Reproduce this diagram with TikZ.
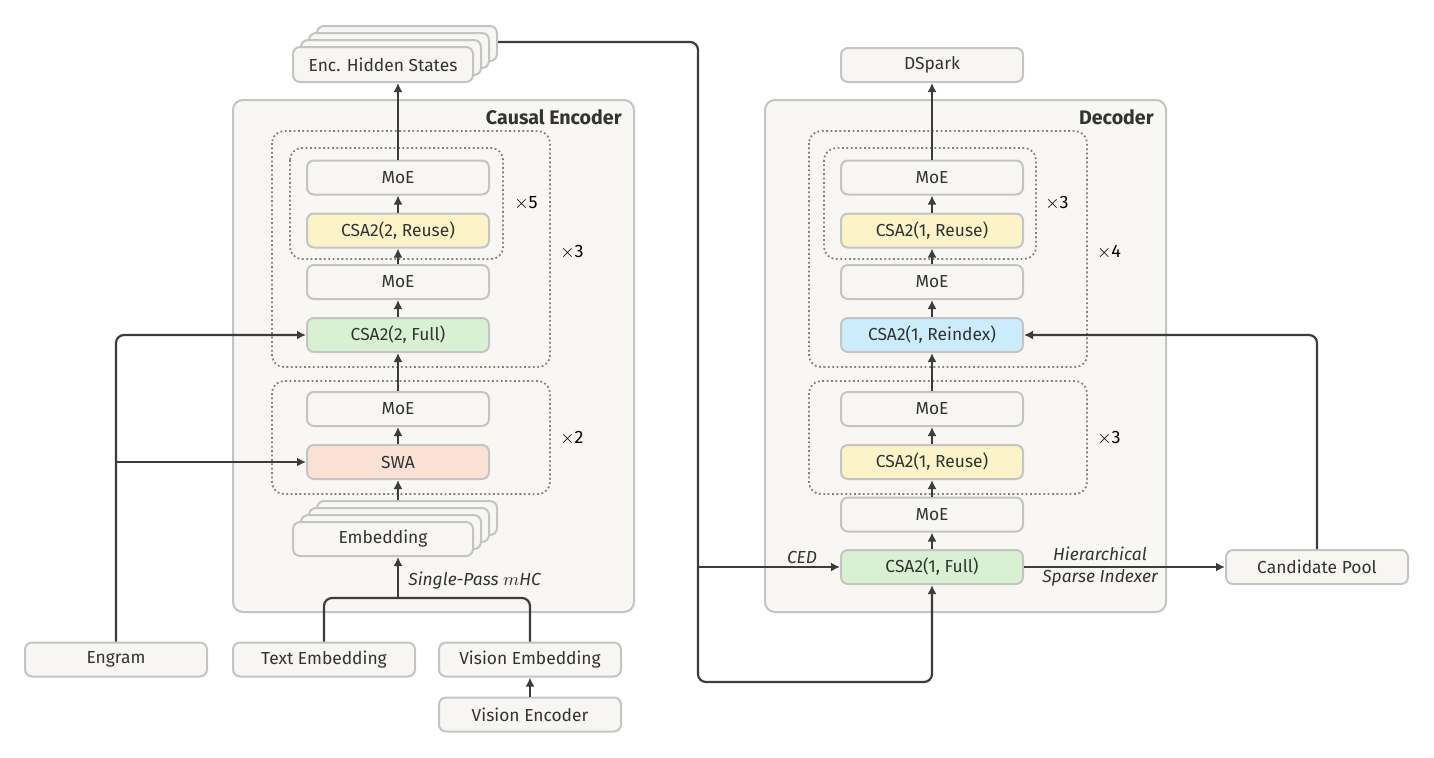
\documentclass[tikz,border=0pt]{standalone}
\usepackage{fontspec}
\setmainfont{Fira Sans}
\usetikzlibrary{arrows.meta}
\definecolor{boxfill}{HTML}{F7F6F2}
\definecolor{contfill}{HTML}{F8F7F4}
\definecolor{bordc}{HTML}{C4C4C4}
\definecolor{dotc}{HTML}{808080}
\definecolor{arrc}{HTML}{3C3C3C}
\definecolor{textc}{HTML}{333333}
\definecolor{yel}{HTML}{FCF4C8}
\definecolor{grn}{HTML}{D8F1D2}
\definecolor{pch}{HTML}{FBE1D3}
\definecolor{blu}{HTML}{CBEDFB}
\tikzset{
  blk/.style={draw=bordc, line width=1pt, rounded corners=3.5pt, fill=boxfill,
    minimum width=91pt, minimum height=17pt, inner sep=0pt, text=textc,
    font=\fontsize{8.7}{10}\selectfont},
  stk/.style={blk, minimum width=90pt},
  cont/.style={draw=bordc, line width=1pt, rounded corners=5pt, fill=contfill},
  dotbox/.style={draw=dotc, line width=0.9pt, dash pattern=on 0.9pt off 1.3pt, rounded corners=6pt},
  ttl/.style={font=\fontsize{9.8}{11}\selectfont\bfseries, text=textc, anchor=east, inner sep=0pt},
  rep/.style={font=\fontsize{9}{10}\selectfont, text=black, inner sep=0pt},
  lbl/.style={font=\fontsize{8.7}{11}\selectfont\itshape, text=textc, inner sep=0pt},
  ln/.style={draw=arrc, line width=1.1pt, rounded corners=4pt},
  arr/.style={ln, -{Latex[length=4.5pt,width=4.5pt]}},
}
\begin{document}
\begin{tikzpicture}[x=0.5pt,y=-0.5pt]
\useasboundingbox (0,0) rectangle (1434,757);

% containers
\draw[cont] (233,100) rectangle (634,612);
\draw[cont] (765,100) rectangle (1166,612);
\node[ttl] (enct) at (622,117) {Causal Encoder};
\node[ttl] (dect) at (1154,117) {Decoder};

% dotted groups
\draw[dotbox] (272,131) rectangle (550,367);
\draw[dotbox] (290,148) rectangle (503,259);
\draw[dotbox] (272,381) rectangle (550,494);
\draw[dotbox] (809,131) rectangle (1087,367);
\draw[dotbox] (824,148) rectangle (1036,259);
\draw[dotbox] (809,381) rectangle (1087,494);

\node[rep] (r5) at (526,203) {$\times$5};
\node[rep] (r3a) at (572,252) {$\times$3};
\node[rep] (r2) at (572,438) {$\times$2};
\node[rep] (r3b) at (1057,203) {$\times$3};
\node[rep] (r4) at (1109,252) {$\times$4};
\node[rep] (r3c) at (1109,438) {$\times$3};

% encoder stack
\node[blk] (emoe1) at (398,177.5) {MoE};
\node[blk, fill=yel] (ereuse) at (398,230.5) {CSA2(2, Reuse)};
\node[blk] (emoe2) at (398,282) {MoE};
\node[blk, fill=grn] (efull) at (398,335) {CSA2(2, Full)};
\node[blk] (emoe3) at (398,409) {MoE};
\node[blk, fill=pch] (swa) at (398,462) {SWA};

% embedding stack
\node[stk] (emb3) at (407,518) {};
\node[stk] (emb2) at (399,525) {};
\node[stk] (emb1) at (391,532) {};
\node[stk] (emb) at (383,539) {Embedding};

% enc hidden states stack
\node[stk, minimum height=17.5pt] (ehs3) at (407,43.5) {};
\node[stk, minimum height=17.5pt] (ehs2) at (399,50.5) {};
\node[stk, minimum height=17.5pt] (ehs1) at (391,57.5) {};
\node[stk, minimum height=17.5pt] (ehs) at (383,64.5) {Enc. Hidden States};

% inputs
\node[blk] (engram) at (116,659.5) {Engram};
\node[blk] (temb) at (324,659.5) {Text Embedding};
\node[blk] (vemb) at (530,659.5) {Vision Embedding};
\node[blk] (venc) at (530,714.5) {Vision Encoder};

% decoder stack
\node[blk] (dspark) at (932,65) {DSpark};
\node[blk] (dmoe1) at (932,177.5) {MoE};
\node[blk, fill=yel] (dreuse1) at (932,230.5) {CSA2(1, Reuse)};
\node[blk] (dmoe2) at (932,282) {MoE};
\node[blk, fill=blu] (reidx) at (932,335) {CSA2(1, Reindex)};
\node[blk] (dmoe3) at (932,409) {MoE};
\node[blk, fill=yel] (dreuse2) at (932,462) {CSA2(1, Reuse)};
\node[blk] (dmoe4) at (932,514.5) {MoE};
\node[blk, fill=grn] (dfull) at (932,567) {CSA2(1, Full)};
\node[blk] (cpool) at (1317,567) {Candidate Pool};

% encoder arrows
\coordinate (cm) at (398,598);
\draw[ln] (temb.north) -- (temb.north |- cm) -- (vemb.north |- cm) -- (vemb.north);
\draw[arr] (cm) -- (cm |- emb.south);
\node[lbl, anchor=west] (spm) at (408,581) {Single-Pass $m$HC};
\draw[arr] (venc.north) -- (vemb.south);
\draw[arr] (swa.north |- emb3.north) -- (swa.south);
\draw[arr] (swa.north) -- (emoe3.south);
\draw[arr] (emoe3.north) -- (efull.south);
\draw[arr] (efull.north) -- (emoe2.south);
\draw[arr] (emoe2.north) -- (ereuse.south);
\draw[arr] (ereuse.north) -- (emoe1.south);
\draw[arr] (emoe1.north) -- (emoe1.north |- ehs.south);

% engram
\coordinate (eb) at (116,462);
\draw[arr] (engram.north) -- (engram.north |- efull.west) -- (efull.west);
\draw[arr] (eb) -- (swa.west);

% encoder to decoder
\coordinate (ce1) at (698,42);
\coordinate (ce2) at (698,682);
\coordinate (ced) at (698,567);
\draw[arr] (ehs3.east |- ce1) -- (ce1) -- (ce2) -- (ce2 -| dfull.south) -- (dfull.south);
\draw[arr] (ced) -- (dfull.west);
\node[lbl] (cedl) at (802,557) {CED};

% decoder arrows
\draw[arr] (dfull.north) -- (dmoe4.south);
\draw[arr] (dmoe4.north) -- (dreuse2.south);
\draw[arr] (dreuse2.north) -- (dmoe3.south);
\draw[arr] (dmoe3.north) -- (reidx.south);
\draw[arr] (reidx.north) -- (dmoe2.south);
\draw[arr] (dmoe2.north) -- (dreuse1.south);
\draw[arr] (dreuse1.north) -- (dmoe1.south);
\draw[arr] (dmoe1.north) -- (dspark.south);

\draw[arr] (dfull.east) -- (cpool.west);
\node[lbl, align=center] (hsi) at (1100,567) {Hierarchical\\Sparse Indexer};
\draw[arr] (cpool.north) -- (cpool.north |- reidx.east) -- (reidx.east);
\end{tikzpicture}
\end{document}
